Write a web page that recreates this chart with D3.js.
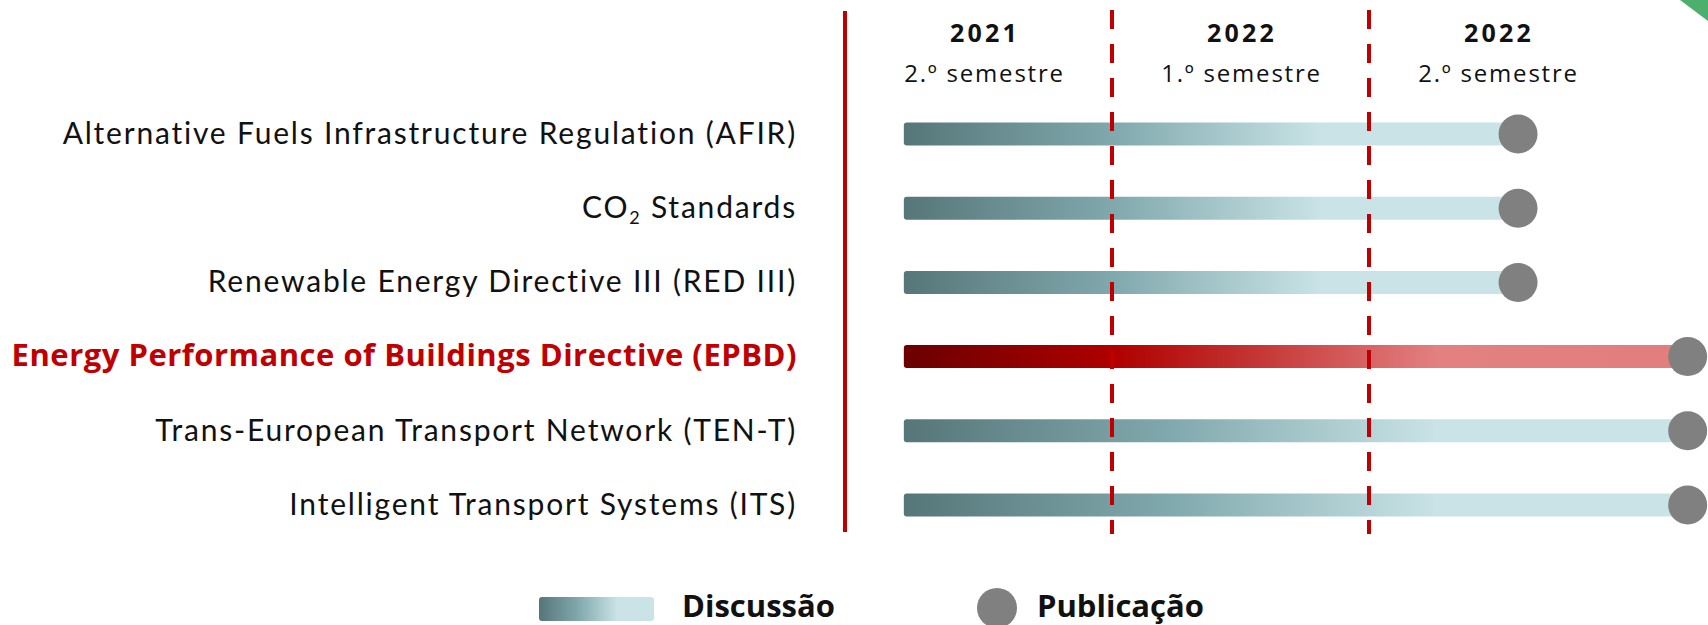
<!DOCTYPE html>
<html>
<head>
<meta charset="utf-8">
<script src="https://cdn.jsdelivr.net/npm/d3@7"></script>
<style>
  html, body { margin: 0; padding: 0; background: #fff; }
  svg { display: block; }
  .label { font-family: Lato, "Open Sans", sans-serif; font-size: 30px; fill: #111; letter-spacing: 1.8px; }
  .label.focus { font-family: "Open Sans", sans-serif; font-weight: 700; font-size: 31px; fill: #c00000; letter-spacing: 0.5px; }
  .year { font-family: "Open Sans", sans-serif; font-weight: 700; font-size: 25px; fill: #111; letter-spacing: 3.2px; }
  .sem { font-family: "Open Sans", sans-serif; font-size: 24px; fill: #111; letter-spacing: 1.8px; }
  .legend { font-family: "Open Sans", sans-serif; font-weight: 700; font-size: 31px; fill: #111; }
</style>
</head>
<body>
<svg class="svg_timeline" width="1708" height="625"></svg>
<script>
// timeline of EU files (discussion -> publication), units = semesters from 2021 S2

var files = ["Alternative Fuels Infrastructure Regulation (AFIR)",
             "CO2 Standards",
             "Renewable Energy Directive III (RED III)",
             "Energy Performance of Buildings Directive (EPBD)",
             "Trans-European Transport Network (TEN-T)",
             "Intelligent Transport Systems (ITS)"];
var discussStart = [0.19, 0.19, 0.19, 0.19, 0.19, 0.19];
var publication  = [2.58, 2.58, 2.58, 3.24, 3.24, 3.24];
var highlighted  = [false, false, false, true, false, false];

var years     = ["2021", "2022", "2022"];
var semesters = ["2.º semestre", "1.º semestre", "2.º semestre"];
var dividers  = [1, 2];

var legendItems = ["Discussão", "Publicação"];

var svg = d3.select(".svg_timeline");

var x = d3.scaleLinear().domain([0, 3]).range([855, 1626]);
var y = d3.scalePoint().domain(files).range([134, 505]);

var barH = 23, dotR = 19.5;

// gradients
var defs = svg.append("defs");
function grad(id, stops) {
    var g = defs.append("linearGradient").attr("id", id)
        .attr("x1", "0%").attr("x2", "100%").attr("y1", "0%").attr("y2", "0%");
    stops.forEach(function(s) {
        g.append("stop").attr("offset", s[0]).attr("stop-color", s[1]);
    });
}
grad("tealGrad", [[0, "#567679"], [0.34, "#80a9ad"], [0.68, "#c9e3e6"], [1, "#c9e3e6"]]);
grad("redGrad",  [[0, "#6b0000"], [0.27, "#b00000"], [0.45, "#c43635"], [0.68, "#e38080"], [1, "#e27e7d"]]);

// slide corner decoration
svg.append("path")
    .attr("d", "M1680,0L1708,0L1708,21Z")
    .attr("fill", "#4caf6c");

// left separator
svg.append("line")
    .attr("x1", x(0) - 10).attr("x2", x(0) - 10)
    .attr("y1", 11).attr("y2", 532)
    .attr("stroke", "#c00000").attr("stroke-width", 4);

// header
var head = svg.append("g");
head.selectAll(".year")
    .data(years)
    .enter().append("text")
    .attr("class", "year")
    .attr("x", function(d, i) { return x(i + 0.5) + 1.5; })
    .attr("y", 42)
    .attr("text-anchor", "middle")
    .text(function(d) { return d; });

head.selectAll(".sem")
    .data(semesters)
    .enter().append("text")
    .attr("class", "sem")
    .attr("x", function(d, i) { return x(i + 0.5) + 1; })
    .attr("y", 82)
    .attr("text-anchor", "middle")
    .text(function(d) { return d; });

// row labels
var labels = svg.selectAll(".label")
    .data(files)
    .enter().append("text")
    .attr("class", function(d, i) { return highlighted[i] ? "label focus" : "label"; })
    .attr("x", 797)
    .attr("y", function(d, i) { return y(d) + (highlighted[i] ? 9 : 10); })
    .attr("text-anchor", "end");

labels.each(function(d) {
    var t = d3.select(this);
    if (d.indexOf("CO2") === 0) {
        t.append("tspan").text("CO");
        t.append("tspan").attr("font-size", "18px").attr("dy", 6).text("2");
        t.append("tspan").attr("dy", -6).text(" Standards");
    } else {
        t.text(d);
    }
});

// discussion bars
svg.selectAll(".bar")
    .data(files)
    .enter().append("rect")
    .attr("class", "bar")
    .attr("x", function(d, i) { return x(discussStart[i]); })
    .attr("y", function(d) { return y(d) - barH / 2; })
    .attr("width", function(d, i) { return x(publication[i]) - x(discussStart[i]); })
    .attr("height", barH)
    .attr("rx", 3)
    .attr("fill", function(d, i) { return highlighted[i] ? "url(#redGrad)" : "url(#tealGrad)"; });

// semester dividers (on top of bars)
svg.selectAll(".divider")
    .data(dividers)
    .enter().append("line")
    .attr("class", "divider")
    .attr("x1", function(d) { return x(d); })
    .attr("x2", function(d) { return x(d); })
    .attr("y1", 10).attr("y2", 534)
    .attr("stroke", "#c00000")
    .attr("stroke-width", 4)
    .attr("stroke-dasharray", "19 15");

// publication dots
svg.selectAll(".dot")
    .data(files)
    .enter().append("circle")
    .attr("class", "dot")
    .attr("cx", function(d, i) { return x(publication[i]); })
    .attr("cy", function(d) { return y(d); })
    .attr("r", dotR)
    .attr("fill", "#808080");

// legend
var legend = svg.append("g");
legend.append("rect")
    .attr("x", 539).attr("y", 597)
    .attr("width", 115).attr("height", 24)
    .attr("rx", 3)
    .attr("fill", "url(#tealGrad)");
legend.append("text")
    .attr("class", "legend")
    .attr("x", 682).attr("y", 617)
    .text(legendItems[0]);
legend.append("circle")
    .attr("cx", 997).attr("cy", 608)
    .attr("r", 20)
    .attr("fill", "#808080");
legend.append("text")
    .attr("class", "legend")
    .attr("x", 1037).attr("y", 617)
    .text(legendItems[1]);
</script>
</body>
</html>
